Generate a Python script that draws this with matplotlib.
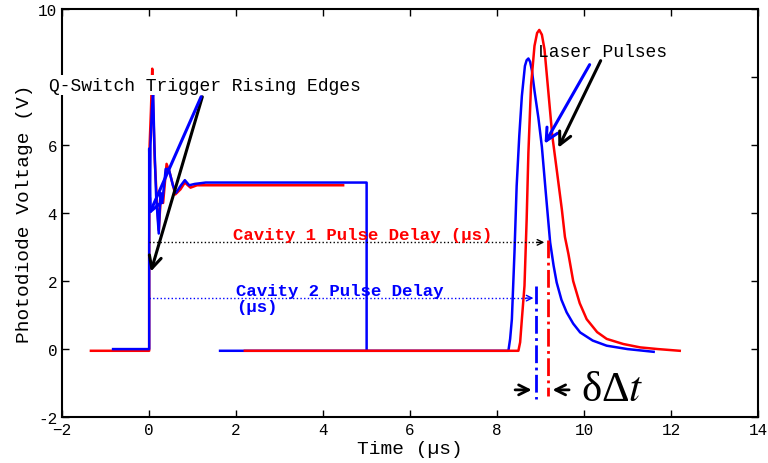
import numpy as np
import matplotlib
matplotlib.use('Agg')
import matplotlib.pyplot as plt

# Q-switch trigger traces (time in us, volts)
trig1_t = [-1.34, 0.0, 0.0, 0.01, 0.04, 0.07, 0.09, 0.13, 0.18, 0.22, 0.27, 0.32,
           0.40, 0.47, 0.60, 0.72, 0.82, 0.95, 1.10, 2.0, 3.0, 4.46]
trig1_v = [-0.05, -0.05, 3.0, 6.0, 7.0, 8.25, 7.2, 5.5, 4.3, 3.5, 4.5, 4.3,
           5.45, 5.2, 4.55, 4.7, 4.9, 4.75, 4.82, 4.82, 4.82, 4.82]

trig2_t = [-0.83, 0.0, 0.0, 0.02, 0.03, 0.06, 0.09, 0.12, 0.16, 0.22, 0.26, 0.30,
           0.38, 0.45, 0.55, 0.62, 0.72, 0.82, 0.92, 1.05, 1.3, 3.0, 5.0, 5.0]
trig2_v = [0.0, 0.0, 5.9, 4.2, 6.0, 7.0, 7.55, 6.0, 4.5, 3.4, 4.6, 4.3,
           5.3, 5.3, 4.8, 4.6, 4.8, 4.97, 4.82, 4.86, 4.9, 4.9, 4.9, 0.0]

# laser pulse traces
pulse1_t = [2.2, 5.0, 8.0, 8.49, 8.53, 8.57, 8.63, 8.68, 8.72, 8.78, 8.86, 8.92, 8.97,
            9.03, 9.09, 9.18, 9.27, 9.37, 9.49, 9.56, 9.64, 9.75, 9.9, 10.06, 10.3,
            10.52, 10.9, 11.29, 11.7, 12.2]
pulse1_v = [-0.05, -0.05, -0.05, -0.05, 0.2, 0.88, 1.86, 3.82, 5.78, 7.75, 8.92, 9.3, 9.39,
            9.25, 8.82, 7.55, 6.27, 5.29, 4.1, 3.3, 2.8, 2.0, 1.35, 0.88, 0.5,
            0.3, 0.15, 0.05, 0.0, -0.05]

pulse2_t = [1.63, 5.0, 8.0, 8.26, 8.30, 8.34, 8.40, 8.45, 8.51, 8.57, 8.64, 8.68, 8.72,
            8.76, 8.80, 8.86, 8.95, 9.03, 9.12, 9.22, 9.30, 9.37, 9.48, 9.60, 9.75,
            9.91, 10.2, 10.52, 11.0, 11.6]
pulse2_v = [-0.05, -0.05, -0.05, -0.05, 0.3, 0.88, 2.85, 4.8, 6.27, 7.45, 8.33, 8.5, 8.55,
            8.45, 8.2, 7.6, 6.8, 5.95, 4.6, 3.14, 2.45, 1.96, 1.45, 1.08, 0.75,
            0.49, 0.25, 0.1, 0.0, -0.08]

# delay markers
delay1_end, delay1_level = 9.15, 3.14
delay2_end, delay2_level = 8.9, 1.5

font = 'Liberation Mono'

fig = plt.figure(figsize=(7.68, 4.64), dpi=100)
ax = fig.add_axes([0.081, 0.099, 0.906, 0.879])

ax.plot(trig1_t, trig1_v, color='red', lw=1.8)
ax.plot(trig2_t, trig2_v, color='blue', lw=1.8)
ax.plot(pulse2_t, pulse2_v, color='blue', lw=1.8)
ax.plot(pulse1_t, pulse1_v, color='red', lw=1.8)

# dotted delay lines
ax.plot([0, delay1_end - 0.2], [delay1_level] * 2, ls=':', color='black', lw=1)
ax.annotate('', xy=(delay1_end, delay1_level), xytext=(delay1_end - 0.3, delay1_level),
            arrowprops=dict(arrowstyle='->', color='black', lw=1, mutation_scale=10))
ax.plot([0, delay2_end - 0.2], [delay2_level] * 2, ls=':', color='blue', lw=1)
ax.annotate('', xy=(delay2_end, delay2_level), xytext=(delay2_end - 0.3, delay2_level),
            arrowprops=dict(arrowstyle='->', color='blue', lw=1, mutation_scale=10))

# dash-dot verticals
ax.plot([9.17, 9.17], [3.2, -1.38], ls='-.', color='red', lw=2)
ax.plot([8.9, 8.9], [1.85, -1.47], ls='-.', color='blue', lw=2)

# delta t arrows
arr = dict(arrowstyle='->', color='black', lw=2, mutation_scale=18)
ax.annotate('', xy=(8.86, -1.2), xytext=(8.35, -1.2), arrowprops=arr)
ax.annotate('', xy=(9.21, -1.2), xytext=(9.72, -1.2), arrowprops=arr)
ax.text(9.93, -1.2, 'δΔ$t$', fontsize=31, family='Liberation Serif',
        math_fontfamily='stix', va='center', ha='left')

# text labels
ax.text(-2.3, 7.76, 'Q-Switch Trigger Rising Edges', family=font, fontsize=13,
        va='center', ha='left', clip_on=False, zorder=5,
        bbox=dict(facecolor='white', edgecolor='none', pad=1))
ax.text(8.95, 8.76, 'Laser Pulses', family=font, fontsize=13, va='center', ha='left')
ax.text(1.92, 3.38, 'Cavity 1 Pulse Delay (µs)', family=font, fontsize=12.5,
        fontweight='bold', color='red', va='center', ha='left')
ax.text(2.0, 1.5, 'Cavity 2 Pulse Delay\n(µs)', family=font, fontsize=12.5,
        fontweight='bold', color='blue', va='center', ha='left', linespacing=1.1)

# pointer arrows
big = dict(arrowstyle='->', lw=2.2, mutation_scale=22)
ax.annotate('', xy=(0.02, 2.2), xytext=(1.24, 7.5), arrowprops=dict(big, color='black'))
ax.annotate('', xy=(-0.03, 3.88), xytext=(1.22, 7.5), arrowprops=dict(big, color='blue'))
ax.annotate('', xy=(9.06, 5.97), xytext=(10.16, 8.44), arrowprops=dict(big, color='blue'))
ax.annotate('', xy=(9.38, 5.85), xytext=(10.41, 8.56), arrowprops=dict(big, color='black'))

ax.set_xlim(-2, 14)
ax.set_ylim(-2, 10)
ax.set_xticks(np.arange(-2, 15, 2))
yt = np.arange(-2, 11, 2)
ax.set_yticks(yt)
# the "8" label sits under the Q-Switch text in the original
ax.set_yticklabels(['' if v == 8 else str(v) for v in yt])
ax.tick_params(direction='in', length=5, width=1, top=True, right=True, labelsize=11.5)
for lab in ax.get_xticklabels() + ax.get_yticklabels():
    lab.set_family(font)
for s in ax.spines.values():
    s.set_linewidth(1.5)
ax.set_xlabel('Time (µs)', family=font, fontsize=14, labelpad=2)
ax.set_ylabel('Photodiode Voltage (V)', family=font, fontsize=14, labelpad=4)

plt.savefig('out.png', dpi=100)
